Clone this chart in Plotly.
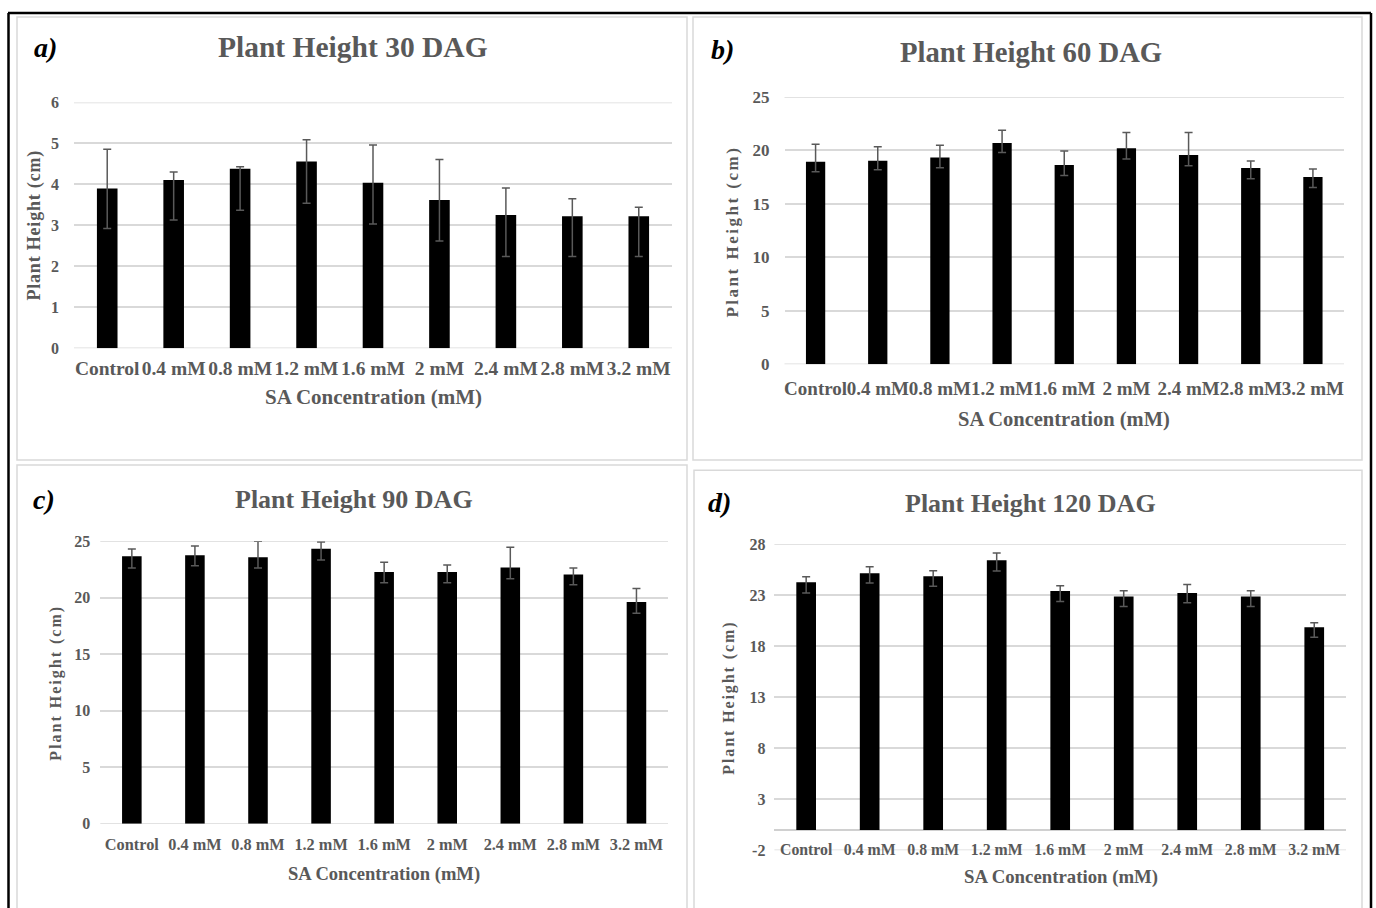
import plotly.graph_objects as go

categories = ["Control", "0.4 mM", "0.8 mM", "1.2 mM", "1.6 mM", "2 mM", "2.4 mM", "2.8 mM", "3.2 mM"]

h30 = [3.90, 4.11, 4.38, 4.56, 4.04, 3.62, 3.25, 3.22, 3.22]
h30_plus = [0.96, 0.19, 0.05, 0.53, 0.92, 0.99, 0.66, 0.43, 0.22]
h30_minus = [0.98, 0.98, 1.01, 1.02, 1.01, 1.00, 1.01, 0.98, 0.98]

h60 = [18.94, 19.03, 19.34, 20.69, 18.63, 20.19, 19.56, 18.34, 17.50]
h60_plus = [1.62, 1.31, 1.13, 1.19, 1.31, 1.47, 2.10, 0.66, 0.75]
h60_minus = [0.94, 0.84, 0.96, 0.88, 0.97, 1.00, 1.00, 1.00, 0.97]

h90 = [23.67, 23.76, 23.58, 24.35, 22.28, 22.28, 22.69, 22.07, 19.62]
h90_plus = [0.65, 0.83, 1.42, 0.59, 0.86, 0.62, 1.78, 0.56, 1.21]
h90_minus = [1.04, 0.92, 0.95, 1.00, 0.95, 0.95, 1.00, 0.92, 0.98]

h120 = [24.28, 25.16, 24.87, 26.43, 23.43, 22.88, 23.23, 22.88, 19.87]
h120_plus = [0.55, 0.65, 0.55, 0.72, 0.52, 0.58, 0.82, 0.58, 0.43]
h120_minus = [1.05, 0.95, 0.98, 1.04, 1.04, 0.98, 0.97, 0.98, 0.98]

yticks_30 = [0, 1, 2, 3, 4, 5, 6]
yticks_60 = [0, 5, 10, 15, 20, 25]
yticks_90 = [0, 5, 10, 15, 20, 25]
yticks_120 = [-2, 3, 8, 13, 18, 23, 28]

titles = ["Plant Height 30 DAG", "Plant Height 60 DAG", "Plant Height 90 DAG", "Plant Height 120 DAG"]
letters = ["a)", "b)", "c)", "d)"]
x_title = "SA Concentration (mM)"
y_title = "Plant Height (cm)"

W, H = 1376, 922
FONT = "Liberation Serif"
GREY = "#595959"
GRID = "#D9D9D9"

# vertical calibration between target picture rows and figure pixels
Y_OFF, Y_SCALE = 9.0, 0.977


def fx(px):
    return px / W


def fy(py):
    real = (py - Y_OFF) / Y_SCALE
    return 1 - real / H


panels = [
    dict(vals=h30, plus=h30_plus, minus=h30_minus, ticks=yticks_30, x0=74, x1=672, ytop=102.3, ybot=347.3,
         tickfs=19.5, ytickfs=16, ystand=14, xstand=6,
         title_xy=(353, 47), title_fs=29.5, let_xy=(46, 47),
         xt_xy=(373, 396), xt_fs=21, yt_xy=(35, 225), yt_fs=18, yt_ls=0.8),
    dict(vals=h60, plus=h60_plus, minus=h60_minus, ticks=yticks_60, x0=784.5, x1=1344, ytop=96.7, ybot=363.3,
         tickfs=19, ytickfs=17, ystand=14, xstand=11,
         title_xy=(1031, 52), title_fs=28.7, let_xy=(722, 49),
         xt_xy=(1064, 418), xt_fs=20.5, yt_xy=(733, 231), yt_fs=17, yt_ls=2.5),
    dict(vals=h90, plus=h90_plus, minus=h90_minus, ticks=yticks_90, x0=100.3, x1=668, ytop=540, ybot=821.7,
         tickfs=16.3, ytickfs=16, ystand=9, xstand=9,
         title_xy=(354, 498), title_fs=26, let_xy=(44, 498),
         xt_xy=(384, 872), xt_fs=18.6, yt_xy=(56, 681), yt_fs=16, yt_ls=2.0),
    dict(vals=h120, plus=h120_plus, minus=h120_minus, ticks=yticks_120, x0=774.4, x1=1346, ytop=543, ybot=848.3,
         tickfs=15.8, ytickfs=16, ystand=8, xstand=-12,
         title_xy=(1030, 502), title_fs=26, let_xy=(719, 501),
         xt_xy=(1061, 875), xt_fs=18.8, yt_xy=(729, 696), yt_fs=16, yt_ls=1.9),
]

fig = go.Figure()
annotations = []
shapes = []
layout = {}

for i, p in enumerate(panels):
    n = "" if i == 0 else str(i + 1)
    rng = [p["ticks"][0], p["ticks"][-1]]
    fig.add_trace(go.Bar(
        x=categories, y=p["vals"],
        xaxis="x" + n, yaxis="y" + n,
        marker=dict(color="#000000", line=dict(width=0)),
        error_y=dict(type="data", symmetric=False, array=p["plus"], arrayminus=p["minus"],
                     color=GREY, thickness=1.5, width=4),
        showlegend=False,
        hoverinfo="x+y",
    ))
    layout["xaxis" + n] = dict(
        domain=[fx(p["x0"]), fx(p["x1"])], anchor="y" + n,
        type="category", tickmode="array", tickvals=categories, ticktext=categories,
        tickangle=0, showgrid=False, showline=False, zeroline=False, ticks="",
        ticklabelstandoff=p["xstand"],
        tickfont=dict(family=FONT, size=p["tickfs"], color=GREY, weight="bold"),
    )
    layout["yaxis" + n] = dict(
        domain=[fy(p["ybot"]), fy(p["ytop"])], anchor="x" + n,
        range=rng, tickmode="array", tickvals=p["ticks"], ticktext=[str(t) for t in p["ticks"]],
        showgrid=True, gridcolor=GRID, gridwidth=1.5,
        zeroline=(rng[0] < 0), zerolinecolor="#D0D0D0", zerolinewidth=1.5,
        showline=False, ticks="", ticklabelstandoff=p["ystand"],
        tickfont=dict(family=FONT, size=p["ytickfs"], color=GREY, weight="bold"),
    )
    # gridlines at the two ends of the value axis (Plotly skips them at the plot edges)
    for v in rng:
        shapes.append(dict(type="line", xref="x" + n + " domain", yref="y" + n,
                           x0=0, x1=1, y0=v, y1=v, layer="below",
                           line=dict(color=GRID, width=1.5)))
    annotations.append(dict(
        text=titles[i], x=fx(p["title_xy"][0]), y=fy(p["title_xy"][1]), xref="paper", yref="paper",
        xanchor="center", yanchor="middle", showarrow=False,
        font=dict(family=FONT, size=p["title_fs"], color=GREY, weight="bold"),
    ))
    annotations.append(dict(
        text=letters[i], x=fx(p["let_xy"][0]), y=fy(p["let_xy"][1]), xref="paper", yref="paper",
        xanchor="center", yanchor="middle", showarrow=False,
        font=dict(family=FONT, size=28, color="#000000", weight="bold", style="italic"),
    ))
    annotations.append(dict(
        text=x_title, x=fx(p["xt_xy"][0]), y=fy(p["xt_xy"][1]), xref="paper", yref="paper",
        xanchor="center", yanchor="middle", showarrow=False,
        font=dict(family=FONT, size=p["xt_fs"], color=GREY, weight="bold"),
    ))
    annotations.append(dict(
        text='<span style="letter-spacing:%.1fpx">%s</span>' % (p["yt_ls"], y_title),
        x=fx(p["yt_xy"][0]), y=fy(p["yt_xy"][1]), xref="paper", yref="paper",
        xanchor="center", yanchor="middle", showarrow=False, textangle=-90,
        font=dict(family=FONT, size=p["yt_fs"], color=GREY, weight="bold"),
    ))

# light grey chart-area borders
for (x0, y0, x1, y1) in [(17, 17, 687, 459), (693, 17, 1362, 459), (17, 464, 687, 930), (694, 469, 1362, 930)]:
    shapes.append(dict(type="rect", xref="paper", yref="paper", x0=fx(x0), x1=fx(x1), y0=fy(y1), y1=fy(y0),
                       line=dict(color=GRID, width=1.5), fillcolor="rgba(0,0,0,0)", layer="below"))
# black outer frame (top, left, right)
for (x0, y0, x1, y1) in [(8, 13, 1371, 13), (8.5, 13, 8.5, 930), (1371, 13, 1371, 930)]:
    shapes.append(dict(type="line", xref="paper", yref="paper", x0=fx(x0), x1=fx(x1), y0=fy(y0), y1=fy(y1),
                       line=dict(color="#000000", width=2.5)))

fig.update_layout(
    width=W, height=H, autosize=False,
    margin=dict(l=0, r=0, t=0, b=0),
    paper_bgcolor="white", plot_bgcolor="white",
    bargap=0.69,
    annotations=annotations,
    shapes=shapes,
    **layout,
)

post = (
    "document.documentElement.style.overflow='hidden';"
    "document.body.style.margin='0';document.body.style.overflow='hidden';"
    "var gd=document.getElementById('{plot_id}');"
    "gd.style.position='fixed';gd.style.left='0px';gd.style.top='0px';"
)

fig.write_html("out.html", post_script=post, config={"displayModeBar": False})
